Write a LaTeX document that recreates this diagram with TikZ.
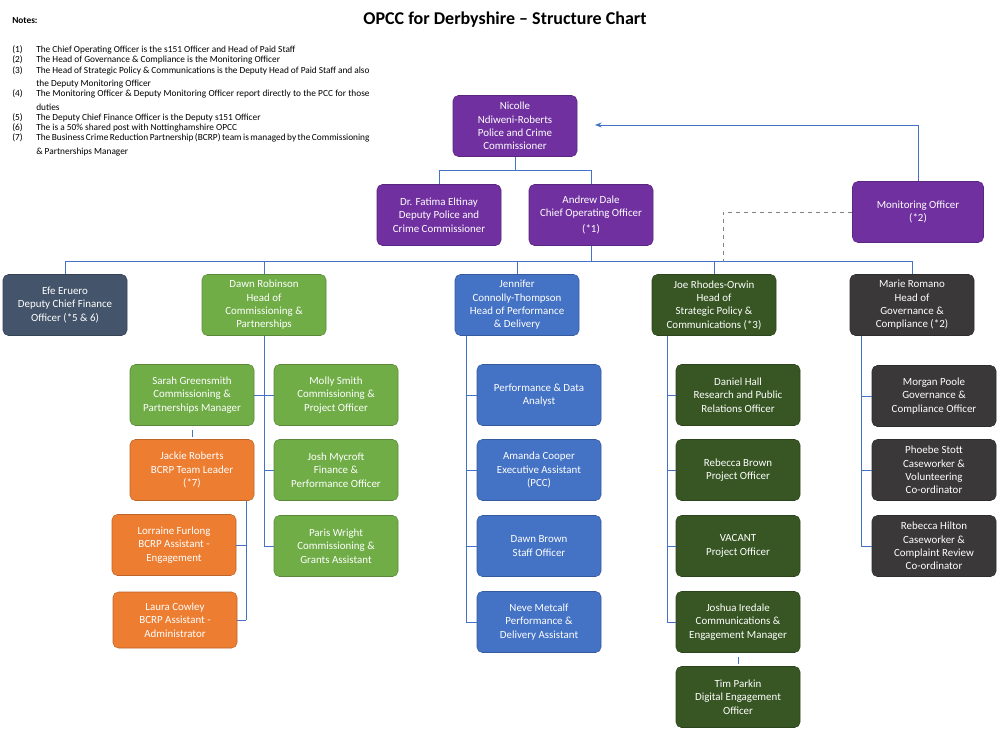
\documentclass[tikz,border=0pt]{standalone}
\usepackage{fontspec}
\setmainfont{Carlito}
\usetikzlibrary{positioning,arrows.meta}

\definecolor{pcc}{HTML}{7030A0}
\definecolor{slate}{HTML}{44546A}
\definecolor{lgreen}{HTML}{70AD47}
\definecolor{lblue}{HTML}{4472C4}
\definecolor{dgreen}{HTML}{375623}
\definecolor{dgrey}{HTML}{3A3838}
\definecolor{orng}{HTML}{ED7D31}

\tikzset{
  box/.style={rounded corners=4pt, minimum width=124*0.75pt, minimum height=61*0.75pt,
    text=white, align=center, inner sep=1pt, font=\fontsize{8.2}{10}\selectfont, draw=#1!80!black, fill=#1},
  link/.style={draw=lblue, line width=0.6pt},
  note/.style={anchor=north west, inner sep=0pt, font=\fontsize{7}{10}\selectfont}
}

\begin{document}
\begin{tikzpicture}[x=0.75pt,y=-0.75pt]

\useasboundingbox (0,0) rectangle (1002,734);

% title and notes
\node (title) at (505,20) {\fontsize{13.5}{16}\selectfont\bfseries OPCC for Derbyshire -- Structure Chart};
\node[note] (notes) at (12,17) {\bfseries Notes:};
\node[note, align=left] (notelist) at (12,43) {%
\begin{tabular}{@{}p{18pt}@{}p{250pt}@{}}
(1) & The Chief Operating Officer is the s151 Officer and Head of Paid Staff\\[-2.3pt]
(2) & The Head of Governance \& Compliance is the Monitoring Officer\\[-2.3pt]
(3) & The Head of Strategic Policy \& Communications is the Deputy Head of Paid Staff and also the Deputy Monitoring Officer\\[-2.3pt]
(4) & The Monitoring Officer \& Deputy Monitoring Officer report directly to the PCC for those duties\\[-2.3pt]
(5) & The Deputy Chief Finance Officer is the Deputy s151 Officer\\[-2.3pt]
(6) & The is a 50\% shared post with Nottinghamshire OPCC\\[-2.3pt]
(7) & The Business Crime Reduction Partnership (BCRP) team is managed by the Commissioning \& Partnerships Manager
\end{tabular}};

% top level
\node[box=pcc] (pcc) at (515,126) {Nicolle\\Ndiweni-Roberts\\Police and Crime\\Commissioner};
\node[box=pcc] (dpcc) at (439,215) {Dr. Fatima Eltinay\\Deputy Police and\\Crime Commissioner};
\node[box=pcc] (coo) at (591,215) {Andrew Dale\\Chief Operating Officer\\[2pt](*1)};
\node[box=pcc, minimum width=131*0.75pt] (mo) at (918,212) {Monitoring Officer\\(*2)};

% heads
\node[box=slate] (efe) at (65,305) {Efe Eruero\\Deputy Chief Finance\\Officer (*5 \& 6)};
\node[box=lgreen] (dawn) at (264,305) {Dawn Robinson\\Head of\\Commissioning \&\\Partnerships};
\node[box=lblue] (jen) at (517,305) {Jennifer\\Connolly-Thompson\\Head of Performance\\\& Delivery};
\node[box=dgreen] (joe) at (714,305) {Joe Rhodes-Orwin\\Head of\\Strategic Policy \&\\Communications (*3)};
\node[box=dgrey] (marie) at (912,305) {Marie Romano\\Head of\\Governance \&\\Compliance (*2)};

% commissioning
\node[box=lgreen] (sarah) at (192,395) {Sarah Greensmith\\Commissioning \&\\Partnerships Manager};
\node[box=lgreen] (molly) at (336,395) {Molly Smith\\Commissioning \&\\Project Officer};
\node[box=orng] (jackie) at (192,470) {Jackie Roberts\\BCRP Team Leader\\(*7)};
\node[box=lgreen] (josh) at (336,470) {Josh Mycroft\\Finance \&\\Performance Officer};
\node[box=orng] (lorr) at (174,545) {Lorraine Furlong\\BCRP Assistant -\\Engagement};
\node[box=lgreen] (paris) at (336,546) {Paris Wright\\Commissioning \&\\Grants Assistant};
\node[box=orng, minimum height=56*0.75pt] (laura) at (175,620) {Laura Cowley\\BCRP Assistant -\\Administrator};

% performance
\node[box=lblue] (perf) at (539,395) {Performance \& Data\\Analyst};
\node[box=lblue] (amanda) at (539,470) {Amanda Cooper\\Executive Assistant\\(PCC)};
\node[box=lblue] (dbrown) at (539,546) {Dawn Brown\\Staff Officer};
\node[box=lblue] (neve) at (539,622) {Neve Metcalf\\Performance \&\\Delivery Assistant};

% strategic policy
\node[box=dgreen] (daniel) at (738,395) {Daniel Hall\\Research and Public\\Relations Officer};
\node[box=dgreen] (rebecca) at (738,470) {Rebecca Brown\\Project Officer};
\node[box=dgreen] (vacant) at (738,546) {VACANT\\Project Officer};
\node[box=dgreen] (joshua) at (738,622) {Joshua Iredale\\Communications \&\\Engagement Manager};
\node[box=dgreen] (tim) at (738,697) {Tim Parkin\\Digital Engagement\\Officer};

% governance
\node[box=dgrey] (morgan) at (934,396) {Morgan Poole\\Governance \&\\Compliance Officer};
\node[box=dgrey] (phoebe) at (934,470) {Phoebe Stott\\Caseworker \&\\Volunteering\\Co-ordinator};
\node[box=dgrey] (rhilton) at (934,546) {Rebecca Hilton\\Caseworker \&\\Complaint Review\\Co-ordinator};

% top connectors
\draw[link] (pcc.south) -- ++(0,14) -| (dpcc.north);
\draw[link] (pcc.south) -- ++(0,14) -| (coo.north);
\coordinate (mo arrow) at (595,125);
\draw[link, -{Stealth[length=5pt]}] (mo.north) |- (mo arrow);
\foreach \h in {efe,dawn,jen,joe,marie}
    \draw[link] (coo.south) -- ++(0,16) -| (\h.north);
\coordinate (mo dash) at (723,262);
\draw[link, draw=gray, dashed] (mo.west) -| (mo dash);

% commissioning connectors
\coordinate (dawn end) at (264,546);
\draw[link] (dawn.south) -- (dawn end);
\foreach \n in {molly,josh,paris}
    \draw[link] (\n.west) -- (\n.west -| dawn end);
\draw[link] (sarah.east) -- (sarah.east -| dawn end);
\draw[link] ([yshift=-3pt]sarah.south) -- ([yshift=2pt]jackie.north);
\coordinate (jackie end) at (246,620);
\draw[link] (jackie.south -| jackie end) -- (jackie end);
\foreach \n in {lorr,laura}
    \draw[link] (\n.east) -- (\n.east -| jackie end);

% performance connectors
\coordinate (jen end) at (466,622);
\draw[link] (jen.south -| jen end) -- (jen end);
\foreach \n in {perf,amanda,dbrown,neve}
    \draw[link] (\n.west) -- (\n.west -| jen end);

% strategic policy connectors
\coordinate (joe end) at (667,622);
\draw[link] (joe.south -| joe end) -- (joe end);
\foreach \n in {daniel,rebecca,vacant,joshua}
    \draw[link] (\n.west) -- (\n.west -| joe end);
\draw[link] ([yshift=-3pt]joshua.south) -- ([yshift=2pt]tim.north);

% governance connectors
\coordinate (marie end) at (861,546);
\draw[link] (marie.south -| marie end) -- (marie end);
\foreach \n in {morgan,phoebe,rhilton}
    \draw[link] (\n.west) -- (\n.west -| marie end);

\end{tikzpicture}
\end{document}
